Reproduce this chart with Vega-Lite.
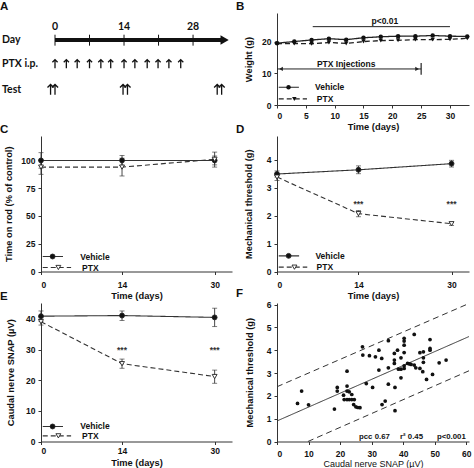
{
"$schema":"https://vega.github.io/schema/vega-lite/v6.json",
"background":"white",
"padding":{"left":0,"top":0,"right":0,"bottom":0},
"columns":2,
"bounds":"flush",
"spacing":{"row":31,"column":45},
"datasets":{
"aLine":[{"x":0,"x2":34,"y":70.7}],
"aTicks":[{"x":0,"y":64.5,"y2":76.4},{"x":7,"y":64.5,"y2":76.4},{"x":14,"y":64.5,"y2":76.4},{"x":21,"y":64.5,"y2":76.4},{"x":28,"y":64.5,"y2":76.4}],
"aHead":[{"x":34.4,"y":70.7}],
"aDays":[{"x":0,"y":81.2,"label":"0"},{"x":14,"y":81.2,"label":"14"},{"x":28,"y":81.2,"label":"28"}],
"aRows":[{"x":-10.75,"y":70.7,"label":"Day"},{"x":-10.75,"y":44.6,"label":"PTX i.p."},{"x":-10.75,"y":16.8,"label":"Test"}],
"aArrows":[
{"row":"PTX","x":0,"y":44.6},{"row":"PTX","x":2.3,"y":44.6},{"row":"PTX","x":4.5,"y":44.6},{"row":"PTX","x":7,"y":44.6},{"row":"PTX","x":9.3,"y":44.6},{"row":"PTX","x":11.3,"y":44.6},{"row":"PTX","x":14,"y":44.6},{"row":"PTX","x":16.2,"y":44.6},{"row":"PTX","x":18.7,"y":44.6},{"row":"PTX","x":20.9,"y":44.6},{"row":"PTX","x":23.1,"y":44.6},{"row":"PTX","x":25.5,"y":44.6},
{"row":"Test","x":-0.9,"y":16.8},{"row":"Test","x":0,"y":16.8},{"row":"Test","x":13.8,"y":16.8},{"row":"Test","x":14.7,"y":16.8},{"row":"Test","x":32.9,"y":16.8},{"row":"Test","x":33.8,"y":16.8}],
"wB":[
{"series":"Vehicle","x":0,"y":19.5},{"series":"Vehicle","x":3,"y":20.0},{"series":"Vehicle","x":6,"y":20.5},{"series":"Vehicle","x":9,"y":20.9},{"series":"Vehicle","x":12,"y":20.6},{"series":"Vehicle","x":15,"y":21.2},{"series":"Vehicle","x":18,"y":21.5},{"series":"Vehicle","x":21,"y":21.7},{"series":"Vehicle","x":24,"y":21.7},{"series":"Vehicle","x":27,"y":21.9},{"series":"Vehicle","x":30,"y":21.7},{"series":"Vehicle","x":33,"y":21.6},
{"series":"PTX","x":0,"y":19.3},{"series":"PTX","x":3,"y":19.4},{"series":"PTX","x":6,"y":19.3},{"series":"PTX","x":9,"y":19.7},{"series":"PTX","x":12,"y":19.4},{"series":"PTX","x":15,"y":20.0},{"series":"PTX","x":18,"y":20.3},{"series":"PTX","x":21,"y":20.4},{"series":"PTX","x":24,"y":20.6},{"series":"PTX","x":27,"y":20.6},{"series":"PTX","x":30,"y":20.7},{"series":"PTX","x":33,"y":21.0}],
"pB":[{"x":6.2,"x2":30,"y":24.7}],
"pBtxt":[{"x":18.7,"y":26.6,"label":"p<0.01"}],
"injB":[{"x":0,"x2":25,"y":11.36}],
"injBar":[{"x":25,"y":9.5,"y2":13.2}],
"injHeadL":[{"x":0.7,"y":11.36}],
"injHeadR":[{"x":24.3,"y":11.36}],
"injTxt":[{"x":12.0,"y":12.9,"label":"PTX Injections"}],
"legB":[
{"series":"Vehicle","part":"line","x":0.3,"x2":3.8,"y":5.6},{"series":"PTX","part":"line","x":0.3,"x2":5.2,"y":1.9},
{"series":"Vehicle","part":"marker","x":2.0,"y":5.6},{"series":"PTX","part":"marker","x":3.0,"y":1.9},
{"series":"Vehicle","part":"label","x":6.6,"y":5.6,"label":"Vehicle"},{"series":"PTX","part":"label","x":6.9,"y":1.9,"label":"PTX"}],
"rodC":[
{"series":"Vehicle","x":0,"y":100,"lo":93,"hi":107},{"series":"Vehicle","x":14,"y":100,"lo":95.5,"hi":104.5},{"series":"Vehicle","x":30,"y":100,"lo":96,"hi":104},
{"series":"PTX","x":0,"y":94,"lo":87.5,"hi":100.5},{"series":"PTX","x":14,"y":94,"lo":86,"hi":102},{"series":"PTX","x":30,"y":101,"lo":94,"hi":107.5}],
"legC":[
{"series":"Vehicle","part":"line","x":0.3,"x2":3.8,"y":13.5},{"series":"PTX","part":"line","x":0.3,"x2":5.2,"y":3.6},
{"series":"Vehicle","part":"marker","x":2.0,"y":13.5},{"series":"PTX","part":"marker","x":3.0,"y":3.6},
{"series":"Vehicle","part":"label","x":6.8,"y":13.5,"label":"Vehicle"},{"series":"PTX","part":"label","x":7.1,"y":3.6,"label":"PTX"}],
"thrD":[
{"series":"Vehicle","x":0,"y":3.49,"lo":3.38,"hi":3.6},{"series":"Vehicle","x":14,"y":3.64,"lo":3.5,"hi":3.78},{"series":"Vehicle","x":30,"y":3.86,"lo":3.74,"hi":3.98},
{"series":"PTX","x":0,"y":3.38,"lo":3.26,"hi":3.5},{"series":"PTX","x":14,"y":2.07,"lo":1.96,"hi":2.18},{"series":"PTX","x":30,"y":1.71,"lo":1.65,"hi":1.77}],
"starsD":[{"x":14,"y":2.42,"label":"***"},{"x":30,"y":2.42,"label":"***"}],
"legD":[
{"series":"Vehicle","part":"line","x":0.3,"x2":3.8,"y":0.56},{"series":"PTX","part":"line","x":0.3,"x2":5.2,"y":0.155},
{"series":"Vehicle","part":"marker","x":2.0,"y":0.56},{"series":"PTX","part":"marker","x":3.0,"y":0.155},
{"series":"Vehicle","part":"label","x":6.6,"y":0.56,"label":"Vehicle"},{"series":"PTX","part":"label","x":6.8,"y":0.155,"label":"PTX"}],
"snapE":[
{"series":"Vehicle","x":0,"y":40.9,"lo":39.2,"hi":42.6},{"series":"Vehicle","x":14,"y":41.1,"lo":39.5,"hi":42.6},{"series":"Vehicle","x":30,"y":40.5,"lo":37.5,"hi":43.5},
{"series":"PTX","x":0,"y":39.1,"lo":38.0,"hi":40.3},{"series":"PTX","x":14,"y":25.4,"lo":23.9,"hi":26.9},{"series":"PTX","x":30,"y":21.2,"lo":19.0,"hi":23.3}],
"starsE":[{"x":14,"y":29.9,"label":"***"},{"x":30,"y":29.9,"label":"***"}],
"legE":[
{"series":"Vehicle","part":"line","x":0.3,"x2":3.8,"y":4.9},{"series":"PTX","part":"line","x":0.3,"x2":5.2,"y":1.85},
{"series":"Vehicle","part":"marker","x":2.0,"y":4.9},{"series":"PTX","part":"marker","x":3.0,"y":1.85},
{"series":"Vehicle","part":"label","x":6.8,"y":4.9,"label":"Vehicle"},{"series":"PTX","part":"label","x":7.1,"y":1.85,"label":"PTX"}],
"scF":[
{"x":6.5,"y":1.67},{"x":7.8,"y":2.21},{"x":10.0,"y":1.61},{"x":18.2,"y":1.42},{"x":19.1,"y":2.37},{"x":19.1,"y":2.21},{"x":22.2,"y":3.08},{"x":22.2,"y":2.43},{"x":21.1,"y":2.03},{"x":22.2,"y":2.21},{"x":22.9,"y":2.18},{"x":23.7,"y":2.06},{"x":21.3,"y":1.84},{"x":22.2,"y":1.84},{"x":22.9,"y":1.84},{"x":23.7,"y":1.84},{"x":24.5,"y":1.84},{"x":24.3,"y":1.62},{"x":25.0,"y":1.52},{"x":25.6,"y":1.49},{"x":26.3,"y":1.48},
{"x":27.1,"y":4.15},{"x":27.2,"y":3.79},{"x":29.3,"y":3.76},{"x":31.2,"y":3.71},{"x":32.3,"y":4.0},{"x":33.2,"y":3.64},{"x":32.3,"y":3.13},{"x":28.3,"y":2.54},{"x":30.3,"y":2.37},{"x":35.3,"y":4.42},{"x":35.3,"y":3.23},{"x":35.3,"y":2.51},{"x":33.3,"y":1.62},{"x":34.3,"y":1.77},
{"x":37.2,"y":3.86},{"x":37.2,"y":3.57},{"x":37.2,"y":3.42},{"x":38.2,"y":4.0},{"x":37.4,"y":2.37},{"x":37.4,"y":1.35},{"x":39.3,"y":3.67},{"x":39.3,"y":2.79},{"x":38.5,"y":3.17},{"x":39.3,"y":3.17},
{"x":40.3,"y":4.52},{"x":40.3,"y":4.40},{"x":40.3,"y":4.22},{"x":40.3,"y":3.90},{"x":40.3,"y":3.32},{"x":40.3,"y":3.20},{"x":41.4,"y":3.42},{"x":42.5,"y":3.38},{"x":43.5,"y":3.35},{"x":42.0,"y":3.40},{"x":43.5,"y":4.69},{"x":44.0,"y":3.23},
{"x":45.3,"y":3.89},{"x":46.4,"y":3.93},{"x":46.4,"y":3.67},{"x":46.4,"y":3.47},{"x":45.3,"y":3.20},{"x":46.2,"y":3.06},{"x":47.4,"y":2.72},{"x":48.5,"y":4.47},{"x":48.5,"y":4.08},{"x":48.5,"y":4.0},{"x":49.3,"y":2.94},{"x":51.4,"y":3.45},{"x":53.6,"y":3.57}],
"fitF":[
{"kind":"fit","x":0,"y":0.9},{"kind":"fit","x":60.86,"y":4.6},
{"kind":"upper","x":0,"y":2.4},{"kind":"upper","x":60.86,"y":6.05},
{"kind":"lower","x":9.8,"y":0},{"kind":"lower","x":60.86,"y":3.1}],
"annF":[{"x":26,"y":0.2,"label":"pcc 0.67"},{"x":39,"y":0.2,"label":"r² 0.45"},{"x":50.7,"y":0.2,"label":"p<0.001"}]
},
"concat":[
{
"width":191,"height":92,
"title":{"text":"A"},
"encoding":{
"x":{"field":"x","type":"quantitative","scale":{"domain":[-2.84,35.9],"nice":false,"zero":false},"axis":null},
"y":{"field":"y","type":"quantitative","scale":{"domain":[0,100],"nice":false,"zero":false},"axis":null}},
"layer":[
{"data":{"name":"aLine"},"mark":{"type":"rule","strokeWidth":4,"color":"#111","strokeCap":"butt"},"encoding":{"x2":{"field":"x2"}}},
{"data":{"name":"aTicks"},"mark":{"type":"rule","strokeWidth":1,"color":"#111"},"encoding":{"y2":{"field":"y2"}}},
{"data":{"name":"aHead"},"mark":{"type":"point","shape":"triangle-right","filled":true,"size":90,"color":"#111","opacity":1}},
{"data":{"name":"aDays"},"mark":{"type":"text","font":"Lato","fontWeight":"bold","fontSize":10.5,"baseline":"alphabetic","align":"center","color":"#111"},"encoding":{"text":{"field":"label"}}},
{"data":{"name":"aRows"},"mark":{"type":"text","font":"Lato","fontWeight":"bold","fontSize":10.5,"baseline":"middle","align":"left","color":"#111"},"encoding":{"text":{"field":"label"}}},
{"data":{"name":"aArrows"},"transform":[{"filter":"datum.row === 'PTX'"}],"mark":{"type":"point","shape":"M0,1L0,-1M-0.6,-0.4L0,-1L0.6,-0.4","filled":false,"size":75,"color":"#111","strokeWidth":1.3,"opacity":1}},
{"data":{"name":"aArrows"},"transform":[{"filter":"datum.row === 'Test'"}],"mark":{"type":"point","shape":"M0,1L0,-1M-0.6,-0.4L0,-1L0.6,-0.4","filled":false,"size":105,"color":"#111","strokeWidth":1.3,"opacity":1}}
]
},
{
"width":192,"height":92,
"title":{"text":"B"},
"encoding":{
"x":{"field":"x","type":"quantitative","scale":{"domain":[0,33.3],"nice":false,"zero":false},"axis":{"values":[0,5,10,15,20,25,30],"title":"Time (days)","labelPadding":3,"titlePadding":3}},
"y":{"field":"y","type":"quantitative","scale":{"domain":[0,29],"nice":false,"zero":false},"axis":{"values":[0,10,20],"title":"Weight (g)","titlePadding":8}}},
"layer":[
{"data":{"name":"wB"},"mark":{"type":"line","color":"#222","strokeWidth":1.3},"encoding":{"strokeDash":{"field":"series","type":"nominal","scale":{"domain":["Vehicle","PTX"],"range":[[1,0],[5,3]]},"legend":null}}},
{"data":{"name":"wB"},"mark":{"type":"point","filled":true,"color":"#111","size":20,"opacity":1},"encoding":{"shape":{"field":"series","type":"nominal","scale":{"domain":["Vehicle","PTX"],"range":["circle","triangle-down"]},"legend":null}}},
{"data":{"name":"pB"},"mark":{"type":"rule","color":"#222","strokeWidth":1},"encoding":{"x2":{"field":"x2"}}},
{"data":{"name":"pBtxt"},"mark":{"type":"text","fontWeight":"bold","fontSize":8.5,"baseline":"middle","align":"center","color":"#111"},"encoding":{"text":{"field":"label"}}},
{"data":{"name":"injB"},"mark":{"type":"rule","color":"#222","strokeWidth":1},"encoding":{"x2":{"field":"x2"}}},
{"data":{"name":"injBar"},"mark":{"type":"rule","color":"#222","strokeWidth":1.2},"encoding":{"y2":{"field":"y2"}}},
{"data":{"name":"injHeadL"},"mark":{"type":"point","shape":"triangle-left","filled":true,"size":18,"color":"#222","opacity":1}},
{"data":{"name":"injHeadR"},"mark":{"type":"point","shape":"triangle-right","filled":true,"size":18,"color":"#222","opacity":1}},
{"data":{"name":"injTxt"},"mark":{"type":"text","fontWeight":"bold","fontSize":8.5,"baseline":"middle","align":"center","color":"#111"},"encoding":{"text":{"field":"label"}}},
{"data":{"name":"legB"},"transform":[{"filter":"datum.part === 'line'"}],"mark":{"type":"rule","color":"#222","strokeWidth":1.2},"encoding":{"x2":{"field":"x2"},"strokeDash":{"field":"series","type":"nominal","scale":{"domain":["Vehicle","PTX"],"range":[[1,0],[5,3]]},"legend":null}}},
{"data":{"name":"legB"},"transform":[{"filter":"datum.part === 'marker'"}],"mark":{"type":"point","filled":true,"color":"#111","size":20,"opacity":1},"encoding":{"shape":{"field":"series","type":"nominal","scale":{"domain":["Vehicle","PTX"],"range":["circle","triangle-down"]},"legend":null}}},
{"data":{"name":"legB"},"transform":[{"filter":"datum.part === 'label'"}],"mark":{"type":"text","fontWeight":"bold","fontSize":8.5,"baseline":"middle","align":"left","color":"#111"},"encoding":{"text":{"field":"label"}}}
]
},
{
"width":191,"height":135.5,
"title":{"text":"C"},
"encoding":{
"x":{"field":"x","type":"quantitative","scale":{"domain":[0,33],"nice":false,"zero":false},"axis":{"values":[0,14,30],"title":"Time (days)","labelPadding":6,"titlePadding":2}},
"y":{"field":"y","type":"quantitative","scale":{"domain":[0,122],"nice":false,"zero":false},"axis":{"values":[0,25,50,75,100],"title":"Time on rod (% of control)","titlePadding":7}}},
"layer":[
{"data":{"name":"rodC"},"mark":{"type":"rule","color":"#333","strokeWidth":0.9},"encoding":{"y":{"field":"lo","type":"quantitative","title":"Time on rod (% of control)"},"y2":{"field":"hi"}}},
{"data":{"name":"rodC"},"mark":{"type":"tick","orient":"horizontal","color":"#333","size":5,"thickness":0.9},"encoding":{"y":{"field":"lo","type":"quantitative","title":"Time on rod (% of control)"}}},
{"data":{"name":"rodC"},"mark":{"type":"tick","orient":"horizontal","color":"#333","size":5,"thickness":0.9},"encoding":{"y":{"field":"hi","type":"quantitative","title":"Time on rod (% of control)"}}},
{"data":{"name":"rodC"},"mark":{"type":"line","color":"#333","strokeWidth":1.1},"encoding":{"strokeDash":{"field":"series","type":"nominal","scale":{"domain":["Vehicle","PTX"],"range":[[1,0],[7,4]]},"legend":null}}},
{"data":{"name":"rodC"},"mark":{"type":"point","filled":true,"stroke":"#222","strokeWidth":0.9,"size":24,"opacity":1},"encoding":{"shape":{"field":"series","type":"nominal","scale":{"domain":["Vehicle","PTX"],"range":["circle","triangle-down"]},"legend":null},"fill":{"field":"series","type":"nominal","scale":{"domain":["Vehicle","PTX"],"range":["#111","#ffffff"]},"legend":null}}},
{"data":{"name":"legC"},"transform":[{"filter":"datum.part === 'line'"}],"mark":{"type":"rule","color":"#333","strokeWidth":1.1},"encoding":{"x2":{"field":"x2"},"strokeDash":{"field":"series","type":"nominal","scale":{"domain":["Vehicle","PTX"],"range":[[1,0],[7,4]]},"legend":null}}},
{"data":{"name":"legC"},"transform":[{"filter":"datum.part === 'marker'"}],"mark":{"type":"point","filled":true,"stroke":"#222","strokeWidth":0.9,"size":24,"opacity":1},"encoding":{"shape":{"field":"series","type":"nominal","scale":{"domain":["Vehicle","PTX"],"range":["circle","triangle-down"]},"legend":null},"fill":{"field":"series","type":"nominal","scale":{"domain":["Vehicle","PTX"],"range":["#111","#ffffff"]},"legend":null}}},
{"data":{"name":"legC"},"transform":[{"filter":"datum.part === 'label'"}],"mark":{"type":"text","fontWeight":"bold","fontSize":8.5,"baseline":"middle","align":"left","color":"#111"},"encoding":{"text":{"field":"label"}}}
]
},
{
"width":192,"height":135.5,
"title":{"text":"D"},
"encoding":{
"x":{"field":"x","type":"quantitative","scale":{"domain":[0,33],"nice":false,"zero":false},"axis":{"values":[0,14,30],"title":"Time (days)","labelPadding":6,"titlePadding":2}},
"y":{"field":"y","type":"quantitative","scale":{"domain":[0,4.85],"nice":false,"zero":false},"axis":{"values":[0,1,2,3,4],"title":"Mechanical threshold (g)","titlePadding":13}}},
"layer":[
{"data":{"name":"thrD"},"mark":{"type":"rule","color":"#333","strokeWidth":0.9},"encoding":{"y":{"field":"lo","type":"quantitative","title":"Mechanical threshold (g)"},"y2":{"field":"hi"}}},
{"data":{"name":"thrD"},"mark":{"type":"tick","orient":"horizontal","color":"#333","size":5,"thickness":0.9},"encoding":{"y":{"field":"lo","type":"quantitative","title":"Mechanical threshold (g)"}}},
{"data":{"name":"thrD"},"mark":{"type":"tick","orient":"horizontal","color":"#333","size":5,"thickness":0.9},"encoding":{"y":{"field":"hi","type":"quantitative","title":"Mechanical threshold (g)"}}},
{"data":{"name":"thrD"},"mark":{"type":"line","color":"#333","strokeWidth":1.1},"encoding":{"strokeDash":{"field":"series","type":"nominal","scale":{"domain":["Vehicle","PTX"],"range":[[1,0],[7,4]]},"legend":null}}},
{"data":{"name":"thrD"},"mark":{"type":"point","filled":true,"stroke":"#222","strokeWidth":0.9,"size":24,"opacity":1},"encoding":{"shape":{"field":"series","type":"nominal","scale":{"domain":["Vehicle","PTX"],"range":["circle","triangle-down"]},"legend":null},"fill":{"field":"series","type":"nominal","scale":{"domain":["Vehicle","PTX"],"range":["#111","#ffffff"]},"legend":null}}},
{"data":{"name":"starsD"},"mark":{"type":"text","fontWeight":"bold","fontSize":8.5,"baseline":"middle","align":"center","color":"#333"},"encoding":{"text":{"field":"label"}}},
{"data":{"name":"legD"},"transform":[{"filter":"datum.part === 'line'"}],"mark":{"type":"rule","color":"#333","strokeWidth":1.1},"encoding":{"x2":{"field":"x2"},"strokeDash":{"field":"series","type":"nominal","scale":{"domain":["Vehicle","PTX"],"range":[[1,0],[7,4]]},"legend":null}}},
{"data":{"name":"legD"},"transform":[{"filter":"datum.part === 'marker'"}],"mark":{"type":"point","filled":true,"stroke":"#222","strokeWidth":0.9,"size":24,"opacity":1},"encoding":{"shape":{"field":"series","type":"nominal","scale":{"domain":["Vehicle","PTX"],"range":["circle","triangle-down"]},"legend":null},"fill":{"field":"series","type":"nominal","scale":{"domain":["Vehicle","PTX"],"range":["#111","#ffffff"]},"legend":null}}},
{"data":{"name":"legD"},"transform":[{"filter":"datum.part === 'label'"}],"mark":{"type":"text","fontWeight":"bold","fontSize":8.5,"baseline":"middle","align":"left","color":"#111"},"encoding":{"text":{"field":"label"}}}
]
},
{
"width":191,"height":138.5,
"title":{"text":"E"},
"encoding":{
"x":{"field":"x","type":"quantitative","scale":{"domain":[0,33],"nice":false,"zero":false},"axis":{"values":[0,14,30],"title":"Time (days)","labelPadding":2,"titlePadding":3}},
"y":{"field":"y","type":"quantitative","scale":{"domain":[0,45.2],"nice":false,"zero":false},"axis":{"values":[0,10,20,30,40],"title":"Caudal nerve SNAP (µV)","titlePadding":10}}},
"layer":[
{"data":{"name":"snapE"},"mark":{"type":"rule","color":"#333","strokeWidth":0.9},"encoding":{"y":{"field":"lo","type":"quantitative","title":"Caudal nerve SNAP (µV)"},"y2":{"field":"hi"}}},
{"data":{"name":"snapE"},"mark":{"type":"tick","orient":"horizontal","color":"#333","size":5,"thickness":0.9},"encoding":{"y":{"field":"lo","type":"quantitative","title":"Caudal nerve SNAP (µV)"}}},
{"data":{"name":"snapE"},"mark":{"type":"tick","orient":"horizontal","color":"#333","size":5,"thickness":0.9},"encoding":{"y":{"field":"hi","type":"quantitative","title":"Caudal nerve SNAP (µV)"}}},
{"data":{"name":"snapE"},"mark":{"type":"line","color":"#333","strokeWidth":1.1},"encoding":{"strokeDash":{"field":"series","type":"nominal","scale":{"domain":["Vehicle","PTX"],"range":[[1,0],[7,4]]},"legend":null}}},
{"data":{"name":"snapE"},"mark":{"type":"point","filled":true,"stroke":"#222","strokeWidth":0.9,"size":24,"opacity":1},"encoding":{"shape":{"field":"series","type":"nominal","scale":{"domain":["Vehicle","PTX"],"range":["circle","triangle-down"]},"legend":null},"fill":{"field":"series","type":"nominal","scale":{"domain":["Vehicle","PTX"],"range":["#111","#ffffff"]},"legend":null}}},
{"data":{"name":"starsE"},"mark":{"type":"text","fontWeight":"bold","fontSize":8.5,"baseline":"middle","align":"center","color":"#333"},"encoding":{"text":{"field":"label"}}},
{"data":{"name":"legE"},"transform":[{"filter":"datum.part === 'line'"}],"mark":{"type":"rule","color":"#333","strokeWidth":1.1},"encoding":{"x2":{"field":"x2"},"strokeDash":{"field":"series","type":"nominal","scale":{"domain":["Vehicle","PTX"],"range":[[1,0],[7,4]]},"legend":null}}},
{"data":{"name":"legE"},"transform":[{"filter":"datum.part === 'marker'"}],"mark":{"type":"point","filled":true,"stroke":"#222","strokeWidth":0.9,"size":24,"opacity":1},"encoding":{"shape":{"field":"series","type":"nominal","scale":{"domain":["Vehicle","PTX"],"range":["circle","triangle-down"]},"legend":null},"fill":{"field":"series","type":"nominal","scale":{"domain":["Vehicle","PTX"],"range":["#111","#ffffff"]},"legend":null}}},
{"data":{"name":"legE"},"transform":[{"filter":"datum.part === 'label'"}],"mark":{"type":"text","fontWeight":"bold","fontSize":8.5,"baseline":"middle","align":"left","color":"#111"},"encoding":{"text":{"field":"label"}}}
]
},
{
"width":192,"height":138.5,
"title":{"text":"F"},
"encoding":{
"x":{"field":"x","type":"quantitative","scale":{"domain":[0,60.86],"nice":false,"zero":false},"axis":{"values":[0,10,20,30,40,50,60],"title":"Caudal nerve SNAP (µV)","titleFontWeight":"normal","titleFontSize":9,"labelPadding":5,"titlePadding":1}},
"y":{"field":"y","type":"quantitative","scale":{"domain":[0,6.07],"nice":false,"zero":false},"axis":{"values":[0,1,2,3,4,5,6],"title":"Mechanical threshold (g)","titlePadding":12}}},
"layer":[
{"data":{"name":"fitF"},"mark":{"type":"line","color":"#333","strokeWidth":1},"encoding":{"detail":{"field":"kind","type":"nominal"},"strokeDash":{"condition":{"test":"datum.kind === 'fit'","value":[1,0]},"value":[6,4]}}},
{"data":{"name":"scF"},"mark":{"type":"circle","color":"#111","size":14,"opacity":1}},
{"data":{"name":"annF"},"mark":{"type":"text","fontWeight":"bold","fontSize":7.8,"baseline":"middle","align":"left","color":"#111"},"encoding":{"text":{"field":"label"}}}
]
}
],
"config":{
"view":{"stroke":null},
"font":"Liberation Sans",
"text":{"font":"Liberation Sans"},
"title":{"anchor":"start","frame":"group","font":"Liberation Sans","fontSize":11.5,"fontWeight":"bold","color":"#111","dx":-41,"offset":1,"baseline":"alphabetic"},
"axis":{"grid":false,"domainColor":"#333","tickColor":"#333","tickSize":3,"labelFont":"Liberation Sans","labelFontWeight":"bold","labelFontSize":8.5,"labelColor":"#111","labelPadding":3,"titleFont":"Liberation Sans","titleFontWeight":"bold","titleFontSize":9.3,"titleColor":"#111"}
}
}
